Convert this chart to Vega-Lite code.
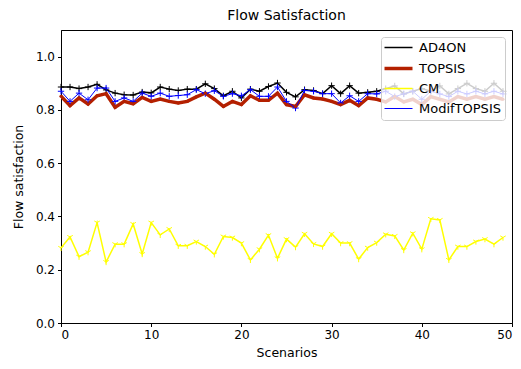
{
  "$schema": "https://vega.github.io/schema/vega-lite/v6.json",
  "width": 451,
  "height": 293,
  "autosize": {"type": "none"},
  "padding": {"left": 61, "top": 30, "right": 9, "bottom": 46},
  "title": {"text": "Flow Satisfaction", "font": "DejaVu Sans", "fontSize": 14, "fontWeight": "normal", "color": "black", "offset": 7},
  "config": {
    "view": {"stroke": "black", "strokeWidth": 1},
    "axis": {"labelFont": "DejaVu Sans", "titleFont": "DejaVu Sans", "labelFontSize": 12, "titleFontSize": 12.5, "titleFontWeight": "normal", "labelColor": "black", "titleColor": "black", "tickColor": "black", "domainColor": "black", "tickSize": 3.5, "grid": false, "labelPadding": 3}
  },
  "data": {"values": [
    {"s":0,"AD4ON":0.886,"TOPSIS":0.851,"CM":0.282,"ModifTOPSIS":0.870},
    {"s":1,"AD4ON":0.886,"TOPSIS":0.816,"CM":0.323,"ModifTOPSIS":0.832},
    {"s":2,"AD4ON":0.880,"TOPSIS":0.845,"CM":0.249,"ModifTOPSIS":0.863},
    {"s":3,"AD4ON":0.886,"TOPSIS":0.822,"CM":0.266,"ModifTOPSIS":0.838},
    {"s":4,"AD4ON":0.896,"TOPSIS":0.853,"CM":0.377,"ModifTOPSIS":0.882},
    {"s":5,"AD4ON":0.875,"TOPSIS":0.861,"CM":0.229,"ModifTOPSIS":0.882},
    {"s":6,"AD4ON":0.863,"TOPSIS":0.810,"CM":0.296,"ModifTOPSIS":0.832},
    {"s":7,"AD4ON":0.857,"TOPSIS":0.832,"CM":0.296,"ModifTOPSIS":0.845},
    {"s":8,"AD4ON":0.856,"TOPSIS":0.823,"CM":0.372,"ModifTOPSIS":0.832},
    {"s":9,"AD4ON":0.867,"TOPSIS":0.847,"CM":0.259,"ModifTOPSIS":0.863},
    {"s":10,"AD4ON":0.864,"TOPSIS":0.832,"CM":0.377,"ModifTOPSIS":0.851},
    {"s":11,"AD4ON":0.886,"TOPSIS":0.841,"CM":0.331,"ModifTOPSIS":0.863},
    {"s":12,"AD4ON":0.878,"TOPSIS":0.832,"CM":0.353,"ModifTOPSIS":0.851},
    {"s":13,"AD4ON":0.873,"TOPSIS":0.826,"CM":0.290,"ModifTOPSIS":0.854},
    {"s":14,"AD4ON":0.878,"TOPSIS":0.832,"CM":0.290,"ModifTOPSIS":0.857},
    {"s":15,"AD4ON":0.878,"TOPSIS":0.849,"CM":0.306,"ModifTOPSIS":0.876},
    {"s":16,"AD4ON":0.898,"TOPSIS":0.863,"CM":0.287,"ModifTOPSIS":0.861},
    {"s":17,"AD4ON":0.880,"TOPSIS":0.840,"CM":0.258,"ModifTOPSIS":0.872},
    {"s":18,"AD4ON":0.853,"TOPSIS":0.813,"CM":0.325,"ModifTOPSIS":0.851},
    {"s":19,"AD4ON":0.870,"TOPSIS":0.832,"CM":0.321,"ModifTOPSIS":0.861},
    {"s":20,"AD4ON":0.845,"TOPSIS":0.820,"CM":0.300,"ModifTOPSIS":0.853},
    {"s":21,"AD4ON":0.878,"TOPSIS":0.853,"CM":0.237,"ModifTOPSIS":0.876},
    {"s":22,"AD4ON":0.870,"TOPSIS":0.836,"CM":0.277,"ModifTOPSIS":0.851},
    {"s":23,"AD4ON":0.888,"TOPSIS":0.836,"CM":0.330,"ModifTOPSIS":0.851},
    {"s":24,"AD4ON":0.901,"TOPSIS":0.863,"CM":0.243,"ModifTOPSIS":0.886},
    {"s":25,"AD4ON":0.866,"TOPSIS":0.820,"CM":0.315,"ModifTOPSIS":0.832},
    {"s":26,"AD4ON":0.849,"TOPSIS":0.813,"CM":0.285,"ModifTOPSIS":0.807},
    {"s":27,"AD4ON":0.876,"TOPSIS":0.857,"CM":0.335,"ModifTOPSIS":0.873},
    {"s":28,"AD4ON":0.873,"TOPSIS":0.845,"CM":0.297,"ModifTOPSIS":0.870},
    {"s":29,"AD4ON":0.861,"TOPSIS":0.841,"CM":0.287,"ModifTOPSIS":0.861},
    {"s":30,"AD4ON":0.891,"TOPSIS":0.832,"CM":0.335,"ModifTOPSIS":0.861},
    {"s":31,"AD4ON":0.861,"TOPSIS":0.820,"CM":0.300,"ModifTOPSIS":0.826},
    {"s":32,"AD4ON":0.891,"TOPSIS":0.836,"CM":0.300,"ModifTOPSIS":0.853},
    {"s":33,"AD4ON":0.863,"TOPSIS":0.816,"CM":0.240,"ModifTOPSIS":0.832},
    {"s":34,"AD4ON":0.866,"TOPSIS":0.845,"CM":0.283,"ModifTOPSIS":0.861},
    {"s":35,"AD4ON":0.870,"TOPSIS":0.840,"CM":0.302,"ModifTOPSIS":0.860},
    {"s":36,"AD4ON":0.880,"TOPSIS":0.830,"CM":0.333,"ModifTOPSIS":0.870},
    {"s":37,"AD4ON":0.890,"TOPSIS":0.850,"CM":0.327,"ModifTOPSIS":0.850},
    {"s":38,"AD4ON":0.860,"TOPSIS":0.830,"CM":0.274,"ModifTOPSIS":0.860},
    {"s":39,"AD4ON":0.870,"TOPSIS":0.840,"CM":0.337,"ModifTOPSIS":0.870},
    {"s":40,"AD4ON":0.880,"TOPSIS":0.820,"CM":0.277,"ModifTOPSIS":0.840},
    {"s":41,"AD4ON":0.870,"TOPSIS":0.850,"CM":0.391,"ModifTOPSIS":0.870},
    {"s":42,"AD4ON":0.890,"TOPSIS":0.840,"CM":0.387,"ModifTOPSIS":0.860},
    {"s":43,"AD4ON":0.860,"TOPSIS":0.830,"CM":0.237,"ModifTOPSIS":0.850},
    {"s":44,"AD4ON":0.880,"TOPSIS":0.850,"CM":0.287,"ModifTOPSIS":0.870},
    {"s":45,"AD4ON":0.900,"TOPSIS":0.840,"CM":0.287,"ModifTOPSIS":0.860},
    {"s":46,"AD4ON":0.880,"TOPSIS":0.850,"CM":0.306,"ModifTOPSIS":0.870},
    {"s":47,"AD4ON":0.870,"TOPSIS":0.840,"CM":0.315,"ModifTOPSIS":0.860},
    {"s":48,"AD4ON":0.900,"TOPSIS":0.850,"CM":0.296,"ModifTOPSIS":0.870},
    {"s":49,"AD4ON":0.870,"TOPSIS":0.840,"CM":0.321,"ModifTOPSIS":0.860}
  ]},
  "transform": [{"fold": ["AD4ON", "TOPSIS", "CM", "ModifTOPSIS"], "as": ["series", "value"]}],
  "encoding": {
    "x": {"field": "s", "type": "quantitative", "title": "Scenarios", "scale": {"domain": [0, 50], "nice": false, "zero": false}, "axis": {"values": [0, 10, 20, 30, 40, 50], "titlePadding": 6}},
    "y": {"field": "value", "type": "quantitative", "title": "Flow satisfaction", "scale": {"domain": [0, 1.1], "nice": false}, "axis": {"values": [0, 0.2, 0.4, 0.6, 0.8, 1.0], "format": ".1f", "titlePadding": 10}}
  },
  "layer": [
    {
      "mark": {"type": "line", "clip": true},
      "encoding": {
        "strokeWidth": {"condition": [{"test": "datum.series === 'TOPSIS'", "value": 3.5}, {"test": "datum.series === 'ModifTOPSIS'", "value": 1}], "value": 1.5},
        "color": {
          "field": "series", "type": "nominal", "title": null,
          "scale": {"domain": ["AD4ON", "TOPSIS", "CM", "ModifTOPSIS"], "range": ["#000000", "#b42000", "#ffff00", "#0000ff"]},
          "legend": {
            "orient": "top-right", "offset": 7, "symbolType": "stroke", "symbolSize": 784, "symbolOffset": 7,
            "labelFont": "DejaVu Sans", "labelFontSize": 13, "labelColor": "black", "rowPadding": 6, "padding": 4,
            "fillColor": "rgba(255,255,255,0.8)", "strokeColor": "#cccccc", "cornerRadius": 3, "labelOffset": 14,
            "encode": {"symbols": {"update": {"strokeWidth": {"signal": "datum.value === 'TOPSIS' ? 3.5 : (datum.value === 'ModifTOPSIS' ? 1 : 1.5)"}}}}
          }
        }
      }
    },
    {
      "transform": [{"filter": "datum.series !== 'TOPSIS'"}],
      "mark": {"type": "point", "filled": false, "strokeWidth": 1, "size": 40, "opacity": 1},
      "encoding": {
        "shape": {"condition": {"test": "datum.series === 'CM'", "value": "M0,0L0,1M0,0L-0.866,-0.5M0,0L0.866,-0.5"}, "value": "M-1,0L1,0M0,-1L0,1"},
        "color": {
          "field": "series", "type": "nominal", "legend": null,
          "scale": {"domain": ["AD4ON", "TOPSIS", "CM", "ModifTOPSIS"], "range": ["#000000", "#b42000", "#ffff00", "#0000ff"]}
        }
      }
    },
    {
      "transform": [{"filter": "datum.series === 'TOPSIS'"}],
      "mark": {"type": "point", "filled": true, "size": 10, "opacity": 1, "color": "#b42000"},
      "encoding": {}
    }
  ]
}
